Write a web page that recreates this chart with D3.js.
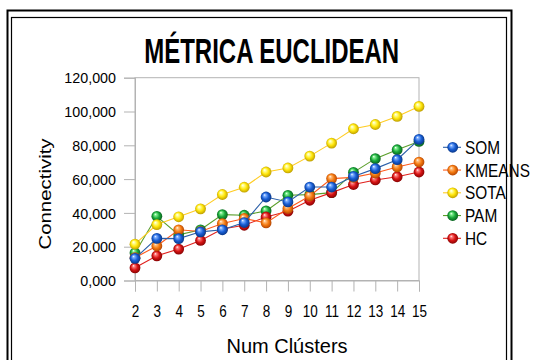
<!DOCTYPE html>
<html>
<head>
<meta charset="utf-8">
<script src="https://cdn.jsdelivr.net/npm/d3@7"></script>
<style>
  html, body { margin: 0; padding: 0; background: #fff; }
  svg { display: block; }
  text { font-family: "Liberation Sans", Arial, sans-serif; fill: #000; }
</style>
</head>
<body>
<svg id="chart" width="546" height="360"></svg>
<script>
// Connectivity per number of clusters, Euclidean metric
const clusters = [2, 3, 4, 5, 6, 7, 8, 9, 10, 11, 12, 13, 14, 15];
const som    = [13100, 24900, 24800, 28800, 30000, 34300, 49400, 46500, 55300, 55300, 61600, 66200, 71500, 83500];
const kmeans = [13500, 20400, 30000, 29000, 33700, 36700, 34100, 42600, 50000, 60300, 61000, 63600, 67200, 70100];
const sota   = [21500, 33100, 37700, 42400, 50900, 55200, 64200, 66600, 73600, 81300, 89800, 92300, 97100, 103000];
const pam    = [16400, 38000, 27000, 30000, 39000, 38600, 41200, 50400, 50800, 52000, 64000, 72100, 77400, 82300];
const hc     = [7500, 14600, 18600, 23700, 30500, 32700, 37600, 41000, 47500, 52000, 56800, 59500, 61400, 64200];

const yTickValues = [0, 20000, 40000, 60000, 80000, 100000, 120000];
const yTickLabels = ["0,000", "20,000", "40,000", "60,000", "80,000", "100,000", "120,000"];

const seriesNames = ["SOM", "KMEANS", "SOTA", "PAM", "HC"];
const seriesValues = [som, kmeans, sota, pam, hc];

// line colour, sphere light / base / dark tones
const palette = {
  SOM:    { line: "#2b5fa8", light: "#7fb0ff", base: "#1a5fd6", dark: "#06307a" },
  KMEANS: { line: "#ff5a1a", light: "#ffc080", base: "#f57a10", dark: "#a83c00" },
  SOTA:   { line: "#ffcc22", light: "#ffffa0", base: "#ffe60a", dark: "#b39200" },
  PAM:    { line: "#5a9e2a", light: "#80f090", base: "#1aa83a", dark: "#06561a" },
  HC:     { line: "#e0201c", light: "#ff8080", base: "#d81414", dark: "#7a0000" }
};

// draw order: later series sit on top
const drawOrder = ["PAM", "HC", "KMEANS", "SOTA", "SOM"];

const svg = d3.select("#chart");
const FONT = '"Liberation Sans", Arial, sans-serif';

// double frame around the chart
svg.append("rect").attr("x", 7.5).attr("y", 10.5).attr("width", 504).attr("height", 420)
  .attr("fill", "none").attr("stroke", "#000").attr("stroke-width", 2);
svg.append("rect").attr("x", 11.5).attr("y", 17.5).attr("width", 495).attr("height", 420)
  .attr("fill", "none").attr("stroke", "#000").attr("stroke-width", 1.2);

// sphere gradients
const defs = svg.append("defs");
seriesNames.forEach(name => {
  const c = palette[name];
  const g = defs.append("radialGradient").attr("id", "ball-" + name)
    .attr("cx", "50%").attr("cy", "50%").attr("r", "55%")
    .attr("fx", "35%").attr("fy", "30%");
  g.append("stop").attr("offset", "0%").attr("stop-color", "#ffffff");
  g.append("stop").attr("offset", "18%").attr("stop-color", c.light);
  g.append("stop").attr("offset", "55%").attr("stop-color", c.base);
  g.append("stop").attr("offset", "100%").attr("stop-color", c.dark);
});

const plot = { left: 135, right: 419, top: 77.7, bottom: 280.5 };

const x = d3.scalePoint().domain(clusters).range([plot.left, plot.right]);
const y = d3.scaleLinear().domain([0, 120000]).range([plot.bottom, plot.top]);

// plot area border
svg.append("rect")
  .attr("x", plot.left).attr("y", plot.top)
  .attr("width", plot.right - plot.left).attr("height", plot.bottom - plot.top)
  .attr("fill", "none").attr("stroke", "#b3b3b3").attr("stroke-width", 1);

// y axis
const yAxis = d3.axisLeft(y).tickValues(yTickValues)
  .tickFormat((d, i) => yTickLabels[i]).tickSize(11).tickPadding(8);
const yg = svg.append("g").attr("transform", `translate(${plot.left},0)`).call(yAxis);
yg.select(".domain").attr("stroke", "#b3b3b3");
yg.selectAll(".tick line").attr("stroke", "#b3b3b3");
yg.selectAll(".tick text").attr("font-family", FONT).attr("font-size", 14.3)
  .attr("fill", "#000").attr("dy", "0.36em");

// x axis
const xAxis = d3.axisBottom(x).tickSize(11).tickPadding(0).tickFormat(d => d);
const xg = svg.append("g").attr("transform", `translate(0,${plot.bottom})`).call(xAxis);
xg.select(".domain").attr("stroke", "#b3b3b3");
xg.selectAll(".tick line").attr("stroke", "#b3b3b3");
xg.selectAll(".tick text").each(function () {
  d3.select(this).attr("y", null).attr("dy", null)
    .attr("transform", "translate(0,36.2) scale(1,1.2)")
    .attr("font-family", FONT).attr("font-size", 13.5).attr("fill", "#000");
});

// series lines and markers
const line = d3.line().x((d, i) => x(clusters[i])).y(d => y(d));
drawOrder.forEach(name => {
  const vals = seriesValues[seriesNames.indexOf(name)];
  const g = svg.append("g");
  g.append("path").datum(vals).attr("d", line)
    .attr("fill", "none").attr("stroke", palette[name].line).attr("stroke-width", 1.1);
  g.selectAll("circle").data(vals).join("circle")
    .attr("cx", (d, i) => x(clusters[i])).attr("cy", d => y(d)).attr("r", 5.4)
    .attr("fill", `url(#ball-${name})`);
});

// legend
const legendY = d3.scalePoint().domain(seriesNames).range([147.3, 238.3]);
seriesNames.forEach(name => {
  const cy = legendY(name);
  const lg = svg.append("g");
  lg.append("line").attr("x1", 443).attr("x2", 461).attr("y1", cy).attr("y2", cy)
    .attr("stroke", palette[name].line).attr("stroke-width", 1.1);
  lg.append("circle").attr("cx", 452.7).attr("cy", cy).attr("r", 5.4)
    .attr("fill", `url(#ball-${name})`);
  lg.append("text").attr("transform", `translate(465,${cy + 6.6}) scale(1,1.2)`)
    .attr("font-size", 15.4).text(name);
});

// title
svg.append("text").attr("transform", "translate(271.7,63.3) scale(1,1.5)")
  .attr("text-anchor", "middle").attr("font-size", 24).attr("font-weight", "bold")
  .text("MÉTRICA EUCLIDEAN");

// axis titles
svg.append("text").attr("transform", "translate(50.7,194) rotate(-90) scale(1.2,1)")
  .attr("text-anchor", "middle").attr("font-size", 17).text("Connectivity");
svg.append("text").attr("transform", "translate(287,353.3)")
  .attr("text-anchor", "middle").attr("font-size", 20).text("Num Clústers");
</script>
</body>
</html>
